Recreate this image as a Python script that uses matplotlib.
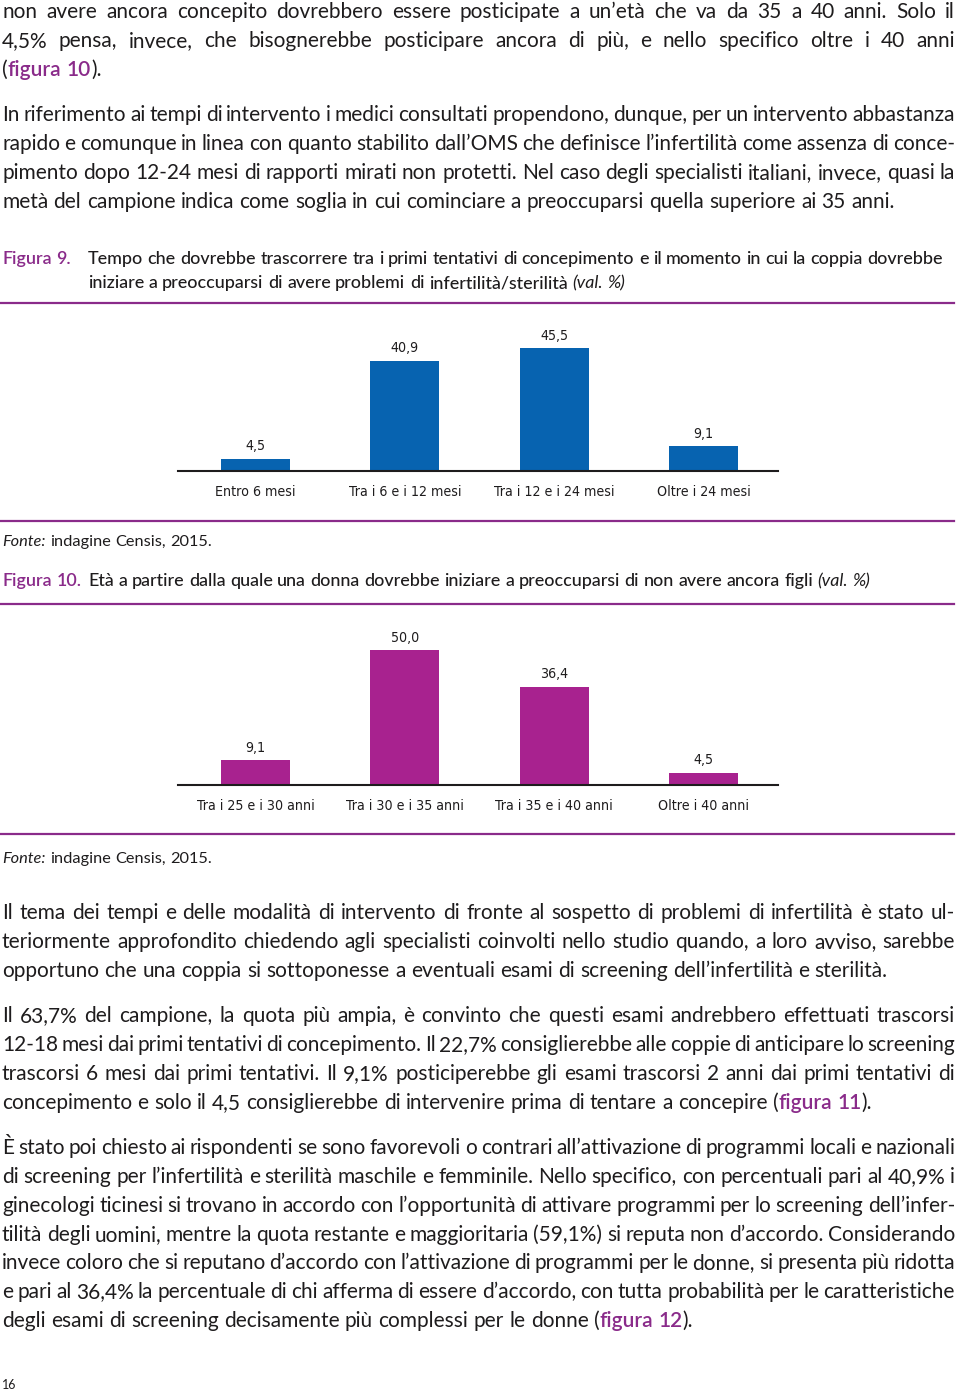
import matplotlib
matplotlib.use('Agg')
import matplotlib.pyplot as plt
from matplotlib.lines import Line2D

# dati dei grafici
fig9_categories = ['Entro 6 mesi', 'Tra i 6 e i 12 mesi', 'Tra i 12 e i 24 mesi', 'Oltre i 24 mesi']
fig9_values = [4.5, 40.9, 45.5, 9.1]
fig10_categories = ['Tra i 25 e i 30 anni', 'Tra i 30 e i 35 anni', 'Tra i 35 e i 40 anni', 'Oltre i 40 anni']
fig10_values = [9.1, 50.0, 36.4, 4.5]

# testo della pagina: {..} = rimando viola, [..] = corsivo
para1 = [
    "non avere ancora concepito dovrebbero essere posticipate a un’età che va da 35 a 40 anni. Solo il",
    "4,5% pensa, invece, che bisognerebbe posticipare ancora di più, e nello specifico oltre i 40 anni",
    "({figura 10}).",
]
para2 = [
    "In riferimento ai tempi di intervento i medici consultati propendono, dunque, per un intervento abbastanza",
    "rapido e comunque in linea con quanto stabilito dall’OMS che definisce l’infertilità come assenza di conce-",
    "pimento dopo 12-24 mesi di rapporti mirati non protetti. Nel caso degli specialisti italiani, invece, quasi la",
    "metà del campione indica come soglia in cui cominciare a preoccuparsi quella superiore ai 35 anni.",
]
para3 = [
    "Il tema dei tempi e delle modalità di intervento di fronte al sospetto di problemi di infertilità è stato ul-",
    "teriormente approfondito chiedendo agli specialisti coinvolti nello studio quando, a loro avviso, sarebbe",
    "opportuno che una coppia si sottoponesse a eventuali esami di screening dell’infertilità e sterilità.",
]
para4 = [
    "Il 63,7% del campione, la quota più ampia, è convinto che questi esami andrebbero effettuati trascorsi",
    "12-18 mesi dai primi tentativi di concepimento. Il 22,7% consiglierebbe alle coppie di anticipare lo screening",
    "trascorsi 6 mesi dai primi tentativi. Il 9,1% posticiperebbe gli esami trascorsi 2 anni dai primi tentativi di",
    "concepimento e solo il 4,5 consiglierebbe di intervenire prima di tentare a concepire ({figura 11}).",
]
para5 = [
    "È stato poi chiesto ai rispondenti se sono favorevoli o contrari all’attivazione di programmi locali e nazionali",
    "di screening per l’infertilità e sterilità maschile e femminile. Nello specifico, con percentuali pari al 40,9% i",
    "ginecologi ticinesi si trovano in accordo con l’opportunità di attivare programmi per lo screening dell’infer-",
    "tilità degli uomini, mentre la quota restante e maggioritaria (59,1%) si reputa non d’accordo. Considerando",
    "invece coloro che si reputano d’accordo con l’attivazione di programmi per le donne, si presenta più ridotta",
    "e pari al 36,4% la percentuale di chi afferma di essere d’accordo, con tutta probabilità per le caratteristiche",
    "degli esami di screening decisamente più complessi per le donne ({figura 12}).",
]
fig9_title = [
    "Tempo che dovrebbe trascorrere tra i primi tentativi di concepimento e il momento in cui la coppia dovrebbe",
    "iniziare a preoccuparsi di avere problemi di infertilità/sterilità [(val. %)]",
]
fig10_title = ["Età a partire dalla quale una donna dovrebbe iniziare a preoccuparsi di non avere ancora figli [(val. %)]"]
fonte = "[Fonte:] indagine Censis, 2015."

W, H = 960, 1394
PURPLE = '#8a2b8a'
BLUE = '#0763b0'
MAGENTA = '#a8228f'
DARK = '#1e1c1d'

fig = plt.figure(figsize=(W / 100, H / 100), dpi=100)
renderer = fig.canvas.get_renderer()

BODY = dict(family=['Lato', 'DejaVu Sans'], fontsize=15, fontweight='normal', color=DARK)
CAPTION = dict(family=['Lato', 'DejaVu Sans'], fontsize=12.9, fontweight='medium', color=DARK)
CHART = dict(family=['DejaVu Sans'], fontstretch='condensed', fontsize=10.2, color=DARK)
STYLES = {'base': {}, '{': dict(color=PURPLE, fontweight='semibold'), '[': dict(fontstyle='italic', fontweight='normal')}


def split_pieces(word, state):
    out, buf = [], ''
    for ch in word:
        if ch in '{[':
            if buf:
                out.append((buf, state))
            buf, state = '', ch
        elif ch in '}]':
            if buf:
                out.append((buf, state))
            buf, state = '', 'base'
        else:
            buf += ch
    if buf:
        out.append((buf, state))
    return out, state


def text_width(s, base):
    t = fig.text(0, 0, s, **base)
    w = t.get_window_extent(renderer).width
    t.remove()
    return w


def draw_line(y, line, base, x0=2, x1=955, justify=True):
    # y = centro visivo della riga in pixel dall'alto; si allinea sulla linea di base
    yb = y + 0.3 * base['fontsize'] * 100 / 72
    words, state = [], 'base'
    for w in line.split(' '):
        p, state = split_pieces(w, state)
        words.append(p)
    objs, widths = [], []
    for p in words:
        ts, ww = [], 0
        for txt, st in p:
            kw = dict(base)
            kw.update(STYLES[st])
            t = fig.text(0, 1 - yb / H, txt, va='baseline', ha='left', **kw)
            w = t.get_window_extent(renderer).width
            ts.append((t, w))
            ww += w
        objs.append(ts)
        widths.append(ww)
    sp = text_width('a a', base) - text_width('aa', base)
    if justify and len(words) > 1:
        gap = (x1 - x0 - sum(widths)) / (len(words) - 1)
    else:
        gap = sp
    x = x0
    for ts, ww in zip(objs, widths):
        xx = x
        for t, w in ts:
            t.set_x(xx / W)
            xx += w
        x += ww + gap


def draw_paragraph(y0, lines, step=28.8):
    for i, line in enumerate(lines):
        draw_line(y0 + i * step, line, BODY, justify=(i < len(lines) - 1))


def rule(y):
    fig.add_artist(Line2D([0, 954 / W], [1 - y / H, 1 - y / H], transform=fig.transFigure,
                          color=PURPLE, lw=1.6))


def bar_chart(base_y, cats, vals, color):
    ax = fig.add_axes([178 / W, 1 - base_y / H, 600 / W, 151 / H])
    ax.bar(range(len(vals)), vals, width=0.46, color=color)
    ax.set_xlim(-0.518, 3.498)
    ax.set_ylim(0, 56)
    for s in ['top', 'left', 'right']:
        ax.spines[s].set_visible(False)
    ax.spines['bottom'].set_linewidth(1.5)
    ax.spines['bottom'].set_color(DARK)
    ax.set_yticks([])
    ax.set_xticks(range(len(cats)))
    ax.set_xticklabels(cats, **CHART)
    ax.tick_params(axis='x', length=0, pad=10)
    for i, v in enumerate(vals):
        ax.annotate(f"{v:.1f}".replace('.', ','), (i, v), xytext=(0, 4), textcoords='offset points',
                    ha='center', va='bottom', **CHART)
    ax.patch.set_visible(False)


# testo sopra
draw_paragraph(12, para1)
draw_paragraph(115, para2)

# Figura 9
draw_line(259, '{Figura 9.}', dict(CAPTION, fontweight='normal'), x0=2, justify=False)
draw_line(259, fig9_title[0], CAPTION, x0=88, justify=False)
draw_line(283, fig9_title[1], CAPTION, x0=88, justify=False)
rule(303)
bar_chart(471, fig9_categories, fig9_values, BLUE)
rule(521)
draw_line(541, fonte, dict(BODY, fontsize=11.8), x0=2, justify=False)

# Figura 10
draw_line(581, '{Figura 10.}', dict(CAPTION, fontweight='normal'), x0=2, justify=False)
draw_line(581, fig10_title[0], CAPTION, x0=88, justify=False)
rule(604)
bar_chart(785, fig10_categories, fig10_values, MAGENTA)
rule(834)
draw_line(858, fonte, dict(BODY, fontsize=11.8), x0=2, justify=False)

# testo sotto
draw_paragraph(913, para3)
draw_paragraph(1016, para4)
draw_paragraph(1148, para5)

fig.text(2 / W, 1 - 1385 / H, '16', va='center', ha='left', family=['Lato', 'DejaVu Sans'],
         fontsize=9, color=DARK)

fig.savefig('out.png', dpi=100)
